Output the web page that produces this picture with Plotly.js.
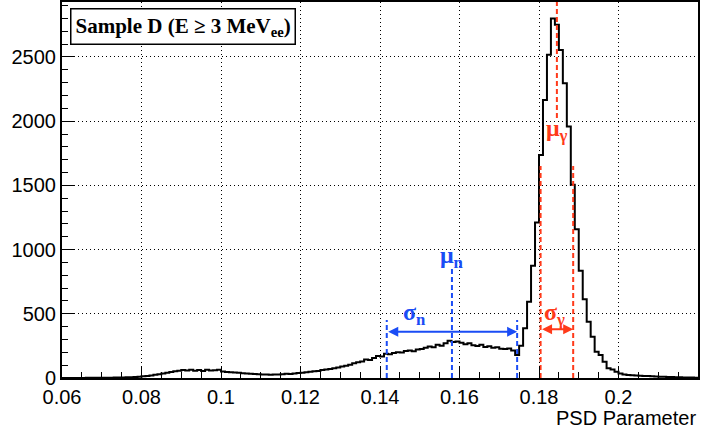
<!DOCTYPE html>
<html>
<head>
<meta charset="utf-8">
<script src="https://cdn.plot.ly/plotly-3.0.1.min.js"></script>
<style>html,body{margin:0;padding:0;background:#fff;}#chart{width:715px;height:437px;}</style>
</head>
<body>
<div id="chart"></div>
<script>
// ---- data ----
const binStart = 0.06;
const binWidth = 0.001;
const counts = [
  0,0,0,0,0,0,1,1,1,1,
  2,2,2,3,3,4,5,6,8,10,
  13,16,20,25,30,35,40,46,52,56,
  63,58,64,57,62,55,64,58,61,65,
  50,47,44,42,40,37,35,33,31,30,
  28,27,26,28,27,30,33,31,36,38,
  40,45,48,52,55,62,66,70,75,82,
  90,96,104,115,122,128,145,140,156,172,
  168,188,185,195,200,198,210,215,208,222,
  225,235,245,240,258,252,270,290,280,285,
  275,262,270,255,250,258,242,248,235,240,
  228,225,230,215,179,252,387,594,875,1210,
  1737,2165,2517,2800,2750,2555,2296,1959,1505,1158,
  836,613,439,322,205,179,127,75,67,49,
  36,28,23,22,20,18,16,15,13,12,
  10,9,8,7,6,5,4,3,3,2
];
const muN = 0.1581, sigN = 0.0164;
const muG = 0.1845, sigG = 0.0041;
const muNLineTop = 857, sigNLineTop = 452;
const muGLineRange = [2025, 2928], sigGLineTop = 1650;
const arrowNY = 360, arrowGY = 380;
const xTicks = [0.06,0.08,0.1,0.12,0.14,0.16,0.18,0.2,0.22];
const xTickText = ['0.06','0.08','0.1','0.12','0.14','0.16','0.18','0.2','0.22'];
const yTicks = [0,500,1000,1500,2000,2500];
const yTickText = ['0','500','1000','1500','2000','2500'];
const xRange = [0.06, 0.22], yRange = [0, 2928];

// ---- build ----
const hx = [], hy = [];
counts.forEach((c,i)=>{ hx.push(binStart + i*binWidth); hy.push(c); });
hx.push(binStart + counts.length*binWidth); hy.push(counts[counts.length-1]);

const BLUE = '#1a4cf5', RED = '#ff3a1a';
const vline = (x, y0, y1, color) => ({
  type:'scatter', mode:'lines', x:[x,x], y:[y0,y1], hoverinfo:'skip', showlegend:false,
  line:{color:color, width:2, dash:'5px,3px'}
});

const traces = [
  {type:'scatter', mode:'lines', x:hx, y:hy, line:{shape:'hv', color:'#000', width:2}, showlegend:false},
  vline(muN, 0, muNLineTop, BLUE),
  vline(muN - sigN, 0, sigNLineTop, BLUE),
  vline(muN + sigN, 0, sigNLineTop, BLUE),
  vline(muG, muGLineRange[0], muGLineRange[1], RED),
  vline(muG - sigG, 0, sigGLineTop, RED),
  vline(muG + sigG, 0, sigGLineTop, RED)
];

const axFont = {family:'Liberation Sans, Arial, sans-serif', size:20, color:'#000'};
const symFont = (c)=>({family:'Liberation Serif, Times New Roman, serif', size:24, color:c});

const layout = {
  width:715, height:437,
  margin:{l:62, r:17, t:2, b:59},
  paper_bgcolor:'#fff', plot_bgcolor:'#fff',
  showlegend:false,
  xaxis:{range:xRange, tickvals:xTicks, ticktext:xTickText, ticks:'inside', ticklen:12, tickwidth:1, tickcolor:'#000',
    showline:true, linecolor:'#000', linewidth:2, mirror:true, zeroline:false,
    showgrid:true, gridcolor:'#000', griddash:'1px,3px', gridwidth:1, tickfont:axFont,
    minor:{dtick:0.005, ticks:'inside', ticklen:6, tickcolor:'#000', showgrid:false}},
  yaxis:{range:yRange, tickvals:yTicks, ticktext:yTickText, ticks:'inside', ticklen:12, tickwidth:1, tickcolor:'#000',
    showline:true, linecolor:'#000', linewidth:2, mirror:true, zeroline:false,
    showgrid:true, gridcolor:'#000', griddash:'1px,3px', gridwidth:1, tickfont:axFont,
    minor:{dtick:100, ticks:'inside', ticklen:6, tickcolor:'#000', showgrid:false}},
  annotations:[
    {xref:'paper', yref:'paper', x:0.0126, y:0.983, xanchor:'left', yanchor:'top', showarrow:false,
     text:'<b>Sample D (E ≥ 3 MeV<sub>ee</sub>)</b>', font:{family:'Liberation Serif, Times New Roman, serif', size:21, color:'#000'},
     bordercolor:'#000', borderwidth:1.5, borderpad:4, bgcolor:'#fff'},
    {xref:'paper', yref:'paper', x:1, y:-40/376, xanchor:'right', yanchor:'middle', showarrow:false,
     text:'PSD Parameter', font:{family:'Liberation Sans, Arial, sans-serif', size:20, color:'#000'}},
    {x:muN, y:942, xref:'x', yref:'y', showarrow:false, text:'<b>μ<sub>n</sub></b>', font:symFont(BLUE)},
    {x:0.1488, y:495, xref:'x', yref:'y', showarrow:false, text:'<b>σ<sub>n</sub></b>', font:symFont(BLUE)},
    {x:0.1840, y:495, xref:'x', yref:'y', showarrow:false, text:'<b>σ<sub>γ</sub></b>', font:symFont(RED)},
    {x:muG, y:1935, xref:'x', yref:'y', showarrow:false, text:'<b>μ<sub>γ</sub></b>', font:symFont(RED)},
    {x:muN+sigN, y:arrowNY, ax:muN-sigN, ay:arrowNY, xref:'x', yref:'y', axref:'x', ayref:'y', text:'',
     showarrow:true, arrowside:'end+start', arrowhead:2, arrowsize:1, arrowwidth:2, arrowcolor:BLUE},
    {x:muG+sigG, y:arrowGY, ax:muG-sigG, ay:arrowGY, xref:'x', yref:'y', axref:'x', ayref:'y', text:'',
     showarrow:true, arrowside:'end+start', arrowhead:2, arrowsize:1, arrowwidth:2, arrowcolor:RED}
  ]
};
Plotly.newPlot('chart', traces, layout, {displayModeBar:false, staticPlot:true});
</script>
</body>
</html>
